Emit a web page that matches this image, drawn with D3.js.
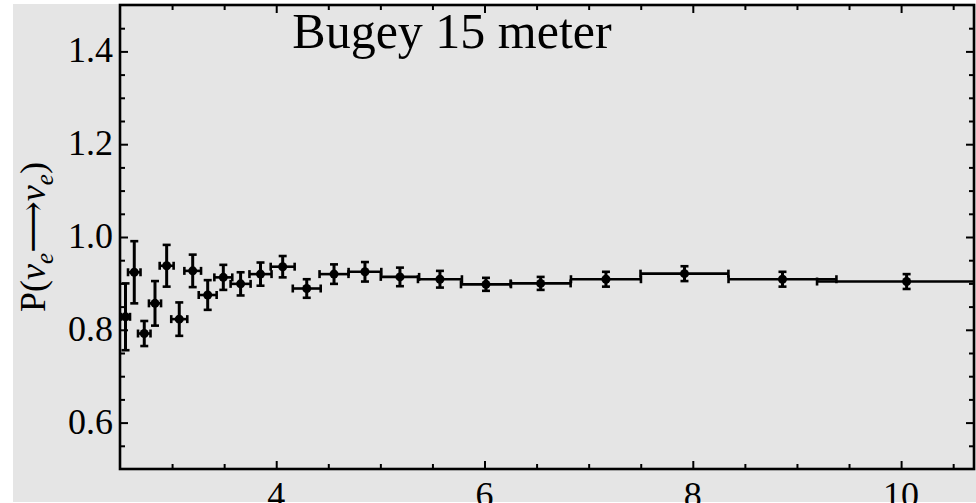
<!DOCTYPE html>
<html>
<head>
<meta charset="utf-8">
<script src="https://cdn.jsdelivr.net/npm/d3@7"></script>
<style>
  body { margin: 0; background: #fff; }
  text { font-family: "Liberation Serif", "DejaVu Serif", serif; fill: #000; }
</style>
</head>
<body>
<script>
// L/E bin centres, bin half widths, survival probability and its error
var lOverE = [2.553, 2.637, 2.733, 2.836, 2.948, 3.069, 3.198, 3.342, 3.492, 3.658, 3.849, 4.062,
              4.293, 4.555, 4.852, 5.188, 5.572, 6.014, 6.539, 7.166, 7.920, 8.861, 10.053]
var binHalf = [0.043, 0.060, 0.060, 0.058, 0.067, 0.077, 0.080, 0.086, 0.086, 0.096, 0.106, 0.115,
               0.134, 0.139, 0.157, 0.184, 0.211, 0.240, 0.288, 0.336, 0.422, 0.518, 0.860]
var survProb = [0.828, 0.924, 0.792, 0.857, 0.938, 0.823, 0.927, 0.875, 0.913, 0.899, 0.920, 0.936,
                0.889, 0.920, 0.925, 0.914, 0.909, 0.898, 0.900, 0.909, 0.921, 0.909, 0.904]
var probErr = [0.072, 0.067, 0.027, 0.048, 0.045, 0.036, 0.035, 0.032, 0.027, 0.025, 0.025, 0.023,
               0.020, 0.021, 0.021, 0.020, 0.018, 0.014, 0.014, 0.016, 0.016, 0.016, 0.016]

var xMajor = [4, 6, 8, 10]
var yMajor = [0.6, 0.8, 1.0, 1.2, 1.4]

var W = 976, H = 503
var plot = { l: 120, r: 974, t: 5, b: 469 }

var x = d3.scaleLinear().domain([2.5, 10.7]).range([plot.l, plot.r])
var y = d3.scaleLinear().domain([0.5, 1.5]).range([plot.b, plot.t])

var xMinor = d3.range(3, 10.75, 0.5).filter(v => xMajor.indexOf(v) < 0)
var yMinor = d3.range(0.55, 1.5, 0.05).map(v => +v.toFixed(2))
    .filter(v => !yMajor.some(m => Math.abs(m - v) < 1e-6))

var svg = d3.select('body').append('svg')
    .attr('width', W)
    .attr('height', H)

// grey background
svg.append('rect')
    .attr('x', 13).attr('y', 4)
    .attr('width', W - 13).attr('height', 498)
    .attr('fill', '#e5e5e5')

svg.append('clipPath').attr('id', 'plotclip')
    .append('rect')
    .attr('x', plot.l).attr('y', plot.t)
    .attr('width', plot.r - plot.l).attr('height', plot.b - plot.t)

var data = lOverE.map((d, i) => ({ x: d, h: binHalf[i], p: survProb[i], e: probErr[i] }))

var g = svg.append('g').attr('clip-path', 'url(#plotclip)')

var pts = g.selectAll('g.pt').data(data).enter().append('g').attr('class', 'pt')

// horizontal bars (bin widths) with end caps
pts.append('line')
    .attr('x1', d => x(d.x - d.h)).attr('x2', d => x(d.x + d.h))
    .attr('y1', d => y(d.p)).attr('y2', d => y(d.p))
    .attr('stroke', '#000').attr('stroke-width', 2.6)
pts.selectAll('line.hc').data(d => [[d.x - d.h, d.p], [d.x + d.h, d.p]]).enter()
    .append('line').attr('class', 'hc')
    .attr('x1', d => x(d[0])).attr('x2', d => x(d[0]))
    .attr('y1', d => y(d[1]) - 4).attr('y2', d => y(d[1]) + 4)
    .attr('stroke', '#000').attr('stroke-width', 2.6)

// vertical error bars with caps
pts.append('line')
    .attr('x1', d => x(d.x)).attr('x2', d => x(d.x))
    .attr('y1', d => y(d.p - d.e)).attr('y2', d => y(d.p + d.e))
    .attr('stroke', '#000').attr('stroke-width', 3)
pts.selectAll('line.vc').data(d => [[d.x, d.p - d.e], [d.x, d.p + d.e]]).enter()
    .append('line').attr('class', 'vc')
    .attr('x1', d => x(d[0]) - 4).attr('x2', d => x(d[0]) + 4)
    .attr('y1', d => y(d[1])).attr('y2', d => y(d[1]))
    .attr('stroke', '#000').attr('stroke-width', 2.6)

pts.append('circle')
    .attr('cx', d => x(d.x)).attr('cy', d => y(d.p))
    .attr('r', 4.5).attr('fill', '#000')

// inward ticks on all four sides
function ticks(axis, vals, size, tr) {
    var a = svg.append('g').attr('transform', tr)
        .call(axis.tickValues(vals).tickSize(size).tickFormat(''))
    a.select('.domain').remove()
    a.selectAll('line').attr('stroke-width', 2)
}
ticks(d3.axisBottom(x), xMajor, -8, `translate(0,${plot.b})`)
ticks(d3.axisBottom(x), xMinor, -5, `translate(0,${plot.b})`)
ticks(d3.axisTop(x), xMajor, -8, `translate(0,${plot.t})`)
ticks(d3.axisTop(x), xMinor, -5, `translate(0,${plot.t})`)
ticks(d3.axisLeft(y), yMajor, -8, `translate(${plot.l},0)`)
ticks(d3.axisLeft(y), yMinor, -5, `translate(${plot.l},0)`)
ticks(d3.axisRight(y), yMajor, -8, `translate(${plot.r},0)`)
ticks(d3.axisRight(y), yMinor, -5, `translate(${plot.r},0)`)

// frame
svg.append('rect')
    .attr('x', plot.l).attr('y', plot.t)
    .attr('width', plot.r - plot.l).attr('height', plot.b - plot.t)
    .attr('fill', 'none').attr('stroke', '#000').attr('stroke-width', 2.6)

// tick labels
svg.selectAll('text.yl').data(yMajor).enter().append('text')
    .attr('class', 'yl')
    .attr('x', plot.l - 7).attr('y', d => y(d) + 11)
    .attr('text-anchor', 'end')
    .attr('font-size', 36)
    .text(d => d3.format('.1f')(d))

svg.selectAll('text.xl').data(xMajor).enter().append('text')
    .attr('class', 'xl')
    .attr('x', d => x(d)).attr('y', plot.b + 38)
    .attr('text-anchor', 'middle')
    .attr('font-size', 36)
    .text(d => d)

// title inside the frame
svg.append('text')
    .attr('x', 452).attr('y', 48)
    .attr('text-anchor', 'middle')
    .attr('font-size', 50)
    .text('Bugey 15 meter')

// y axis label
var yl = svg.append('text')
    .attr('transform', `translate(45, ${(plot.t + plot.b) / 2}) rotate(-90)`)
    .attr('text-anchor', 'middle')
    .attr('font-size', 36)
yl.append('tspan').text('P(')
yl.append('tspan').attr('font-style', 'italic').text('ν')
yl.append('tspan').attr('font-style', 'italic').attr('font-size', 25).attr('dy', 8).text('e')
yl.append('tspan').attr('dy', -8).text('⟶')
yl.append('tspan').attr('font-style', 'italic').text('ν')
yl.append('tspan').attr('font-style', 'italic').attr('font-size', 25).attr('dy', 8).text('e')
yl.append('tspan').attr('dy', -8).text(')')
</script>
</body>
</html>
